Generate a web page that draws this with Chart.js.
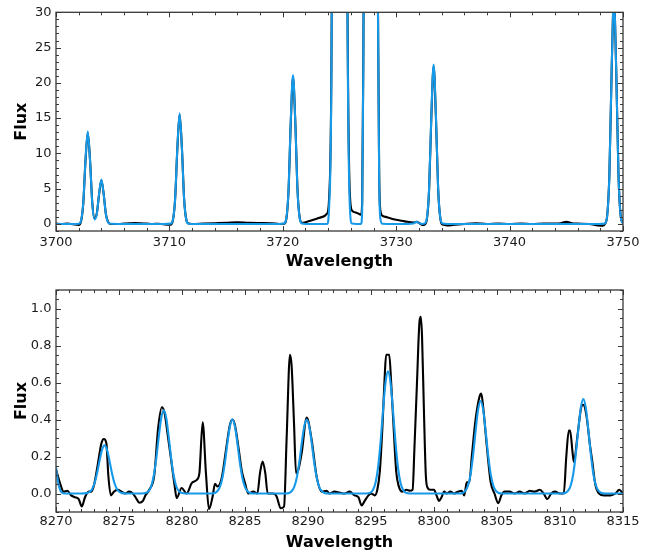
<!DOCTYPE html>
<html>
<head>
<meta charset="utf-8">
<script src="https://cdn.jsdelivr.net/npm/chart.js@4.4.1/dist/chart.umd.min.js"></script>
<style>
  html, body { margin: 0; padding: 0; background: #ffffff; }
  #wrap { position: relative; width: 665px; height: 554px; overflow: hidden; }
  canvas { position: absolute; left: 0; }
  #err { position: absolute; left: 60px; top: 100px; color: red; font: 12px monospace; }
</style>
</head>
<body>
<div id="wrap">
  <canvas id="topChart" width="665" height="277" style="top:0px"></canvas>
  <canvas id="botChart" width="665" height="277" style="top:277px"></canvas>
  <div id="err"></div>
</div>
<script>
// ---------------- DATA ----------------
// Upper panel: shared wavelength grid, observed (black) and model (blue) flux
const topWave = [3700,3700.5,3701,3701.5,3702.0,3702.2,3702.4,3702.6,3702.8,3703.0,3703.2,3703.4,3703.6,3703.8,3704.0,3704.2,3704.4,3704.6,3704.8,3705.5,3706,3706.5,3707,3707.5,3708,3708.5,3709,3709.5,3710.1,3710.3,3710.5,3710.7,3710.9,3711.1,3711.3,3711.5,3711.7,3712,3713,3714,3715,3716,3717,3718,3719,3719.7,3720.1,3720.3,3720.5,3720.7,3720.9,3721.1,3721.3,3721.5,3721.7,3722.0,3722.5,3723.0,3723.5,3723.9,3724.1,3724.3,3724.5,3724.7,3725.0,3725.3,3725.5,3725.7,3725.9,3726.1,3726.5,3726.9,3727.0,3727.1,3727.2,3727.4,3727.75,3728.1,3728.3,3728.4,3728.5,3728.6,3728.8,3729.2,3729.6,3730.0,3730.5,3731.0,3731.5,3731.8,3732.1,3732.3,3732.5,3732.7,3732.9,3733.1,3733.3,3733.5,3733.7,3733.9,3734.1,3734.5,3735,3736,3737,3738,3739,3740,3741,3742,3743,3744,3744.5,3745,3745.5,3746,3747,3747.8,3748.2,3748.4,3748.6,3748.8,3749.0,3749.2,3749.4,3749.6,3749.8,3750];
const topObs = [0.05,0.0,0.05,-0.05,-0.15,0.3,2.8,8.9,12.9,9.1,3.0,0.8,1.5,4.2,6.2,4.3,1.4,0.25,0.0,0.0,0.05,0.1,0.12,0.08,0.05,0.0,0.02,-0.05,-0.1,0.45,3.4,10.6,15.5,10.9,3.5,0.55,0.05,0.0,0.05,0.1,0.15,0.25,0.15,0.12,0.1,0.0,0.02,0.6,4.5,14.2,20.8,14.6,4.8,0.8,0.15,0.25,0.5,0.75,1.0,1.45,4.2,26,121,400,600,400,112,32,4.8,1.9,1.6,1.3,3.2,23,81,500,800,400,61,29,7.2,2.0,1.15,0.95,0.75,0.6,0.45,0.3,0.2,0.3,0.05,-0.15,-0.1,0.6,4.8,15.2,22.3,15.3,4.9,0.7,-0.1,-0.2,-0.15,0.0,0.1,0.0,0.05,0.0,0.05,0.0,0.05,0.05,0.1,0.3,0.1,0.05,0.0,-0.2,-0.25,0.0,1.1,7.0,21.8,32,21.9,7.1,1.1,0.1];
const topModel = [0,0,0,0,0.03,0.43,2.9,9.0,13.1,9.0,2.9,0.64,1.42,4.3,6.3,4.3,1.39,0.21,0.02,0,0,0,0,0,0,0,0,0,0.04,0.52,3.45,10.75,15.7,10.75,3.45,0.52,0.04,0,0,0,0,0,0,0,0,0,0.05,0.7,4.64,14.45,21.1,14.45,4.64,0.7,0.05,0,0,0,0,0,3.0,25,120,400,600,400,110,30,3.0,0.05,0,0,2.0,22,80,500,800,400,60,28,6.0,0.8,0.02,0,0,0,0,0,0.05,0.3,0.05,0,0.05,0.75,4.97,15.5,22.6,15.5,4.97,0.75,0.05,0,0,0,0,0,0,0,0,0,0,0,0,0,0,0,0,0,0.01,0.08,1.06,7.04,21.9,32,21.9,7.04,1.06,0.08];
const topXTicks = [3700,3710,3720,3730,3740,3750];
const topYTicks = [0,5,10,15,20,25,30];

// Lower panel: observed (black) spectrum
const botObsWave = [8270,8270.3,8270.6,8270.9,8271.2,8271.5,8271.8,8272.05,8272.3,8272.6,8272.8,8273.0,8273.3,8273.6,8273.8,8274.0,8274.15,8274.35,8274.6,8274.9,8275.2,8275.5,8275.8,8276.1,8276.4,8276.6,8276.9,8277.1,8277.4,8277.8,8278.1,8278.4,8278.6,8278.9,8279.2,8279.4,8279.58,8279.97,8280.37,8280.77,8281.17,8281.38,8281.64,8281.9,8282.14,8282.43,8282.62,8282.8,8283.15,8283.5,8283.8,8284.0,8284.2,8284.5,8284.75,8285.0,8285.27,8285.66,8285.98,8286.19,8286.4,8286.61,8286.8,8287.24,8287.51,8287.83,8288.1,8288.3,8288.57,8288.7,8288.89,8289.05,8289.23,8289.5,8289.9,8290.29,8290.69,8291.09,8291.48,8291.7,8292.1,8292.5,8292.9,8293.3,8293.7,8294.0,8294.26,8294.5,8294.8,8295.0,8295.3,8295.5,8295.7,8295.9,8296.1,8296.2,8296.45,8296.6,8296.8,8297.0,8297.2,8297.5,8297.8,8298.1,8298.3,8298.45,8298.65,8298.85,8298.95,8299.05,8299.2,8299.35,8299.5,8299.7,8300.0,8300.2,8300.4,8300.6,8300.8,8301.0,8301.3,8301.6,8301.9,8302.2,8302.4,8302.6,8302.8,8303.0,8303.3,8303.6,8303.75,8303.9,8304.2,8304.5,8304.8,8305.1,8305.35,8305.6,8306.0,8306.4,8306.8,8307.2,8307.6,8308.0,8308.4,8308.7,8309.0,8309.3,8309.6,8310.0,8310.3,8310.5,8310.7,8310.8,8311.0,8311.1,8311.4,8311.7,8311.85,8312.1,8312.4,8312.55,8312.8,8313.1,8313.5,8314.0,8314.4,8314.7,8315.0];
const botObsFlux = [0.13,0.06,0.01,0.015,-0.01,-0.02,-0.03,-0.07,-0.02,0.01,0.01,0.04,0.15,0.27,0.295,0.27,0.1,-0.01,0.01,0.02,0.01,0.0,0.01,0.0,-0.03,-0.05,-0.04,-0.01,0.02,0.1,0.35,0.466,0.44,0.3,0.15,0.05,-0.025,0.03,0.0,0.056,0.074,0.11,0.385,0.11,-0.085,-0.016,0.053,0.038,0.083,0.24,0.37,0.40,0.37,0.24,0.12,0.056,0.0,0.01,0.0,0.11,0.173,0.11,0.0,0.0,-0.016,-0.08,-0.07,0.29,0.75,0.69,0.38,0.11,0.128,0.22,0.41,0.29,0.09,0.01,0.015,0.0,0.01,0.005,0.0,0.01,-0.01,-0.02,-0.065,-0.04,-0.01,0.0,-0.01,0.02,0.12,0.35,0.65,0.75,0.75,0.6,0.35,0.12,0.04,0.01,0.02,0.015,0.02,0.25,0.6,0.93,0.955,0.85,0.45,0.1,0.03,0.02,0.02,-0.01,-0.04,-0.02,0.01,0.0,0.01,0.0,0.01,0.015,-0.01,0.06,0.06,0.2,0.4,0.52,0.54,0.47,0.25,0.06,0.0,-0.052,-0.01,0.01,0.01,0.0,0.01,0.0,0.015,0.01,0.02,0.0,-0.03,0.0,0.01,0.0,0.0,0.2,0.34,0.34,0.22,0.17,0.32,0.47,0.48,0.42,0.25,0.18,0.05,0.0,-0.01,-0.01,0.0,0.02,0.0];

// Lower panel: model (blue) spectrum
const botModelWave = [8270,8270.1,8270.2,8270.3,8270.45,8270.7,8272.0,8272.45,8272.65,8272.85,8273.05,8273.25,8273.45,8273.65,8273.85,8274.05,8274.25,8274.45,8274.65,8274.85,8275.05,8275.25,8275.6,8276.8,8277.15,8277.35,8277.55,8277.75,8277.95,8278.15,8278.35,8278.55,8278.75,8278.95,8279.15,8279.35,8279.55,8279.75,8279.95,8280.3,8282.3,8282.6,8282.8,8283.0,8283.2,8283.4,8283.6,8283.8,8284.0,8284.2,8284.4,8284.6,8284.8,8285.0,8285.2,8285.4,8285.7,8288.2,8288.5,8288.7,8288.9,8289.1,8289.3,8289.5,8289.7,8289.9,8290.1,8290.3,8290.5,8290.7,8290.9,8291.1,8291.3,8291.6,8294.6,8294.95,8295.15,8295.35,8295.55,8295.75,8295.95,8296.15,8296.35,8296.55,8296.75,8296.95,8297.15,8297.35,8297.55,8297.75,8298.1,8302.0,8302.3,8302.5,8302.7,8302.9,8303.1,8303.3,8303.5,8303.7,8303.9,8304.1,8304.3,8304.5,8304.7,8304.9,8305.1,8305.4,8310.1,8310.45,8310.65,8310.85,8311.05,8311.25,8311.45,8311.65,8311.85,8312.05,8312.25,8312.45,8312.65,8312.85,8313.05,8313.25,8313.6,8315];
const botModelFlux = [0.14,0.09,0.05,0.025,0.005,0,0,0.002,0.008,0.022,0.054,0.107,0.175,0.236,0.26,0.236,0.175,0.107,0.054,0.022,0.008,0.002,0,0,0.004,0.013,0.038,0.093,0.185,0.303,0.408,0.45,0.408,0.303,0.185,0.093,0.038,0.013,0.004,0,0,0.003,0.012,0.034,0.082,0.164,0.27,0.362,0.40,0.362,0.27,0.164,0.082,0.034,0.012,0.003,0,0,0.003,0.012,0.034,0.082,0.164,0.27,0.362,0.40,0.362,0.27,0.164,0.082,0.034,0.012,0.003,0,0,0.005,0.019,0.056,0.136,0.271,0.445,0.598,0.66,0.598,0.445,0.271,0.136,0.056,0.019,0.005,0,0,0.004,0.015,0.043,0.103,0.206,0.337,0.453,0.50,0.453,0.337,0.206,0.103,0.043,0.015,0.004,0,0,0.004,0.015,0.043,0.105,0.21,0.344,0.462,0.51,0.462,0.344,0.21,0.105,0.043,0.015,0.004,0,0];
const botXTicks = [8270,8275,8280,8285,8290,8295,8300,8305,8310,8315];
const botYTicks = [0.0,0.2,0.4,0.6,0.8,1.0];

// ---------------- RENDERING ----------------
const OBS_COLOR = '#000000';
const MODEL_COLOR = '#1699e8';
const FRAME_COLOR = '#383838';
const FONT = 'DejaVu Sans';

function pairs(xs, ys) { return xs.map((x, i) => ({ x: x, y: ys[i] })); }

function reportError(e) {
  document.getElementById('err').textContent += String(e && e.stack ? e.stack : e) + ' | ';
}

// Frame + matplotlib-like inward ticks on all four sides
function makeFramePlugin(xMinor, yMinor) {
  return {
    id: 'frameTicks',
    afterDraw(chart) {
      try {
        const ctx = chart.ctx;
        const ca = chart.chartArea;
        const left = ca.left, right = ca.right, top = ca.top, bottom = ca.bottom;
        const xs = chart.scales.x, ys = chart.scales.y;
        ctx.save();
        ctx.strokeStyle = FRAME_COLOR;
        ctx.lineWidth = 1;
        const seg = (x1, y1, x2, y2) => { ctx.beginPath(); ctx.moveTo(x1, y1); ctx.lineTo(x2, y2); ctx.stroke(); };
        const MAJ = 5, MIN = 3;
        const nx = Math.round((xs.max - xs.min) / xMinor);
        for (let i = 0; i <= nx; i++) {
          const p = Math.round(xs.getPixelForValue(xs.min + i * xMinor)) + 0.5;
          seg(p, bottom, p, bottom - MIN); seg(p, top, p, top + MIN);
        }
        const y0 = Math.ceil(ys.min / yMinor - 1e-9) * yMinor;
        const ny = Math.floor((ys.max - y0) / yMinor + 1e-9);
        for (let i = 0; i <= ny; i++) {
          const p = Math.round(ys.getPixelForValue(y0 + i * yMinor)) + 0.5;
          seg(left, p, left + MIN, p); seg(right, p, right - MIN, p);
        }
        xs.ticks.forEach(t => {
          const p = Math.round(xs.getPixelForValue(t.value)) + 0.5;
          seg(p, bottom, p, bottom - MAJ); seg(p, top, p, top + MAJ);
        });
        ys.ticks.forEach(t => {
          const p = Math.round(ys.getPixelForValue(t.value)) + 0.5;
          seg(left, p, left + MAJ, p); seg(right, p, right - MAJ, p);
        });
        ctx.lineWidth = 1.3;
        ctx.strokeRect(left, top, right - left, bottom - top);
        ctx.restore();
      } catch (e) { reportError(e); }
    }
  };
}

function makeChart(id, cfg) {
  try {
    return new Chart(document.getElementById(id), {
      type: 'line',
      data: {
        datasets: [
          { label: 'Model', data: cfg.model, borderColor: MODEL_COLOR, borderWidth: 2.1, pointRadius: 0, cubicInterpolationMode: 'monotone', order: 0 },
          { label: 'Observed', data: cfg.obs, borderColor: OBS_COLOR, borderWidth: 2.1, pointRadius: 0, cubicInterpolationMode: 'monotone', order: 1 }
        ]
      },
      options: {
        responsive: false,
        animation: false,
        events: [],
        layout: { padding: { top: cfg.padTop, right: 42, left: 0, bottom: 0 } },
        plugins: { legend: { display: false }, tooltip: { enabled: false } },
        scales: {
          x: {
            type: 'linear', min: cfg.xMin, max: cfg.xMax,
            grid: { display: false, drawTicks: false }, border: { display: false },
            afterBuildTicks: s => { s.ticks = cfg.xTicks.map(v => ({ value: v })); },
            afterFit: s => { s.height = cfg.xHeight; },
            ticks: { autoSkip: false, maxRotation: 0, padding: cfg.xPad, color: '#1a1a1a', font: { family: FONT, size: 13 }, callback: v => String(v) },
            title: { display: true, text: 'Wavelength', color: '#000', font: { family: FONT, size: 16, weight: 'bold' }, padding: { top: 0, bottom: cfg.xTitlePad } }
          },
          y: {
            type: 'linear', min: cfg.yMin, max: cfg.yMax,
            grid: { display: false, drawTicks: false }, border: { display: false },
            afterBuildTicks: s => { s.ticks = cfg.yTicks.map(v => ({ value: v })); },
            afterFit: s => { s.width = 56; },
            ticks: { autoSkip: false, padding: 4.5, color: '#1a1a1a', font: { family: FONT, size: 13 }, callback: cfg.yFmt },
            title: { display: true, text: 'Flux', color: '#000', font: { family: FONT, size: 16, weight: 'bold' }, padding: { top: 12, bottom: 0 } }
          }
        }
      },
      plugins: [makeFramePlugin(cfg.xMinor, cfg.yMinor)]
    });
  } catch (e) { reportError(e); }
}

makeChart('topChart', {
  obs: pairs(topWave, topObs), model: pairs(topWave, topModel),
  xMin: 3700, xMax: 3750, yMin: -1, yMax: 30,
  xTicks: topXTicks, yTicks: topYTicks, xMinor: 2, yMinor: 1,
  padTop: 10, xHeight: 46, xPad: 3.4, xTitlePad: 5.4,
  yFmt: v => String(v)
});

makeChart('botChart', {
  obs: pairs(botObsWave, botObsFlux), model: pairs(botModelWave, botModelFlux),
  xMin: 8270, xMax: 8315, yMin: -0.1, yMax: 1.1,
  xTicks: botXTicks, yTicks: botYTicks, xMinor: 1, yMinor: 0.05,
  padTop: 13, xHeight: 42, xPad: 1.6, xTitlePad: 2,
  yFmt: v => Number(v).toFixed(1)
});
</script>
</body>
</html>
